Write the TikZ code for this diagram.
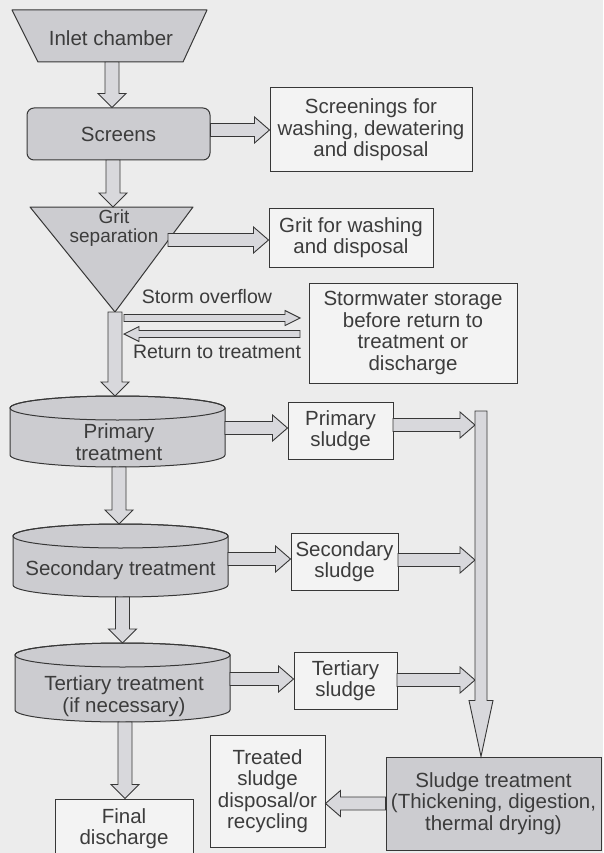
\documentclass[tikz,border=0pt]{standalone}
\usepackage{fontspec}
\setmainfont{Liberation Sans}
\usetikzlibrary{calc}
\definecolor{bg}{RGB}{236,236,236}
\definecolor{shapegray}{RGB}{204,204,208}
\definecolor{arrowgray}{RGB}{216,216,220}
\definecolor{boxfill}{RGB}{243,243,243}
\definecolor{ink}{RGB}{55,55,55}
\definecolor{txt}{RGB}{60,60,60}
\tikzset{
  every node/.style={font=\fontsize{20.5}{21.5}\selectfont, text=txt},
  whitebox/.style={draw=ink, fill=boxfill, line width=1pt, align=center, inner sep=0pt},
  graybox/.style={whitebox, fill=shapegray},
  shapeline/.style={draw=ink, fill=shapegray, line width=1pt, line join=round},
  flowarr/.style={draw=ink, fill=arrowgray, line width=0.9pt, line join=miter},
  lbl/.style={align=center, inner sep=0pt},
}
% #1 shaft half width, #2 head half width, #3 head length, #4 from, #5 to
\newcommand\flowarrow[5]{%
  \coordinate (faH) at ($(#5)!#3!(#4)$);
  \filldraw[flowarr] ($(#4)!#1!90:(#5)$) -- ($(faH)!#1!90:(#5)$) -- ($(faH)!#2!90:(#5)$)
    -- (#5) -- ($(faH)!#2!-90:(#5)$) -- ($(faH)!#1!-90:(#5)$) -- ($(#4)!#1!-90:(#5)$) -- cycle;
}
\begin{document}
\begin{tikzpicture}[x=1pt,y=-1pt]
\useasboundingbox (0,0) rectangle (603,853);
\fill[bg] (0,0) rectangle (603,853);
\clip (0,0) rectangle (603,853);

% ---- Inlet chamber
\filldraw[shapeline] (12,10) -- (207,10) -- (183,62) -- (38,62) -- cycle;
\node[lbl] (inlet) at (111,38) {Inlet chamber};
\coordinate (inletB) at (112,62);

% ---- Screens
\node[graybox, rounded corners=7pt, minimum width=183pt, minimum height=52pt] (screens) at (118.5,134) {Screens};
\node[whitebox, minimum width=202pt, minimum height=84pt] (scr) at (371,130) {Screenings for\\washing, dewatering\\and disposal};

% ---- Grit
\filldraw[shapeline] (30,207) -- (193,207) -- (115,312) -- cycle;
\node[lbl, font=\fontsize{19}{19}\selectfont] (grit) at (114,228) {Grit\\separation};
\coordinate (gritR) at (168,240);
\coordinate (apex) at (115,312);
\node[whitebox, minimum width=164pt, minimum height=59pt] (gritbox) at (351,237.5) {Grit for washing\\and disposal};

% ---- Storm
\node[whitebox, minimum width=208pt, minimum height=100pt] (storm) at (413,333) {Stormwater storage\\before return to\\treatment or\\discharge};
\coordinate (soA) at (124,318);
\coordinate (soB) at (300,318);
\coordinate (rtA) at (300,334);
\coordinate (rtB) at (124,334);
\node[lbl, font=\fontsize{19.5}{20}\selectfont] (solbl) at (207,297) {Storm overflow};
\node[lbl, font=\fontsize{19.5}{20}\selectfont] (rtlbl) at (217,352) {Return to treatment};

% ---- Primary cylinder
\filldraw[shapeline] (10,408) -- (10,455) arc(180:360:107.5pt and 12pt) -- (225,408) arc(0:180:107.5pt and 12pt) -- cycle;
\draw[ink, line width=1pt] (117.5,408) ellipse (107.5pt and 12pt);
\node[lbl] (primary) at (119,442) {Primary\\treatment};
\coordinate (primT) at (115,396);
\coordinate (primB) at (119,467);
\coordinate (primR) at (225,428);

% ---- Secondary cylinder
\filldraw[shapeline] (13,536) -- (13,585) arc(180:360:107.5pt and 12pt) -- (228,536) arc(0:180:107.5pt and 12pt) -- cycle;
\draw[ink, line width=1pt] (120.5,536) ellipse (107.5pt and 12pt);
\node[lbl] (secondary) at (120.5,570) {Secondary treatment};
\coordinate (secT) at (119,524);
\coordinate (secB) at (122.5,597);
\coordinate (secR) at (228,559);

% ---- Tertiary cylinder
\filldraw[shapeline] (15,655) -- (15,710) arc(180:360:107.5pt and 12pt) -- (230,655) arc(0:180:107.5pt and 12pt) -- cycle;
\draw[ink, line width=1pt] (122.5,655) ellipse (107.5pt and 12pt);
\node[lbl] (tertiary) at (124,696) {Tertiary treatment\\(if necessary)};
\coordinate (terT) at (122.5,643);
\coordinate (terB) at (125,722);
\coordinate (terR) at (230,679);

% ---- Sludge boxes
\node[whitebox, minimum width=105pt, minimum height=57pt] (ps) at (340.5,430.5) {Primary\\sludge};
\node[whitebox, minimum width=107pt, minimum height=57pt] (ss) at (344.5,561.5) {Secondary\\sludge};
\node[whitebox, minimum width=103pt, minimum height=57pt] (ts) at (345.5,680.5) {Tertiary\\sludge};

\node[graybox, minimum width=215pt, minimum height=93pt] (sludge) at (493.5,803.5) {Sludge treatment\\(Thickening, digestion,\\thermal drying)};
\node[whitebox, minimum width=115pt, minimum height=112pt] (treated) at (267.5,791) {Treated\\sludge\\disposal/or\\recycling};
\node[whitebox, minimum width=138pt, minimum height=59pt] (final) at (124,828.5) {Final\\discharge};

\coordinate (barTop) at (481,411);
\coordinate (barLeft) at (475,411);

% ---- derived connector ends
\coordinate (screensT) at (inletB |- screens.north);
\coordinate (screensB) at (113,160);
\coordinate (gritT) at (113,207);
\coordinate (scrA) at (screens.east |- scr.west);
\coordinate (gritBoxL) at (gritR -| gritbox.west);
\coordinate (psL) at (primR -| ps.west);
\coordinate (psR) at (393,425);
\coordinate (bar1) at (psR -| barLeft);
\coordinate (ssL) at (secR -| ss.west);
\coordinate (ssR) at (398,560);
\coordinate (bar2) at (ssR -| barLeft);
\coordinate (tsL) at (terR -| ts.west);
\coordinate (tsR) at (397,680);
\coordinate (bar3) at (tsR -| barLeft);
\coordinate (sludgeT) at (barTop |- sludge.north);
\coordinate (treatedR) at (treated.east |- sludge.west);
\coordinate (finalT) at (terB |- final.north);

% ---- connectors
\flowarrow{7pt}{14pt}{14pt}{inletB}{screensT}
\flowarrow{7pt}{14pt}{14pt}{screensB}{gritT}
\flowarrow{6.5pt}{13pt}{15pt}{scrA}{scr.west}
\flowarrow{6.5pt}{13pt}{15pt}{gritR}{gritBoxL}
\flowarrow{3.5pt}{7.5pt}{15pt}{soA}{soB}
\flowarrow{3.5pt}{7.5pt}{15pt}{rtA}{rtB}
\flowarrow{7pt}{14pt}{14pt}{apex}{primT}
\flowarrow{7pt}{14pt}{14pt}{primB}{secT}
\flowarrow{7pt}{14pt}{14pt}{secB}{terT}
\flowarrow{7pt}{14pt}{14pt}{terB}{finalT}
\flowarrow{6.5pt}{13pt}{15pt}{primR}{psL}
\flowarrow{6.5pt}{13pt}{15pt}{secR}{ssL}
\flowarrow{6.5pt}{13pt}{15pt}{terR}{tsL}
\flowarrow{6.5pt}{13pt}{15pt}{psR}{bar1}
\flowarrow{6.5pt}{13pt}{15pt}{ssR}{bar2}
\flowarrow{6.5pt}{13pt}{15pt}{tsR}{bar3}
\flowarrow{6pt}{12pt}{56pt}{barTop}{sludgeT}
\flowarrow{6.5pt}{13pt}{15pt}{sludge.west}{treatedR}
\end{tikzpicture}
\end{document}
